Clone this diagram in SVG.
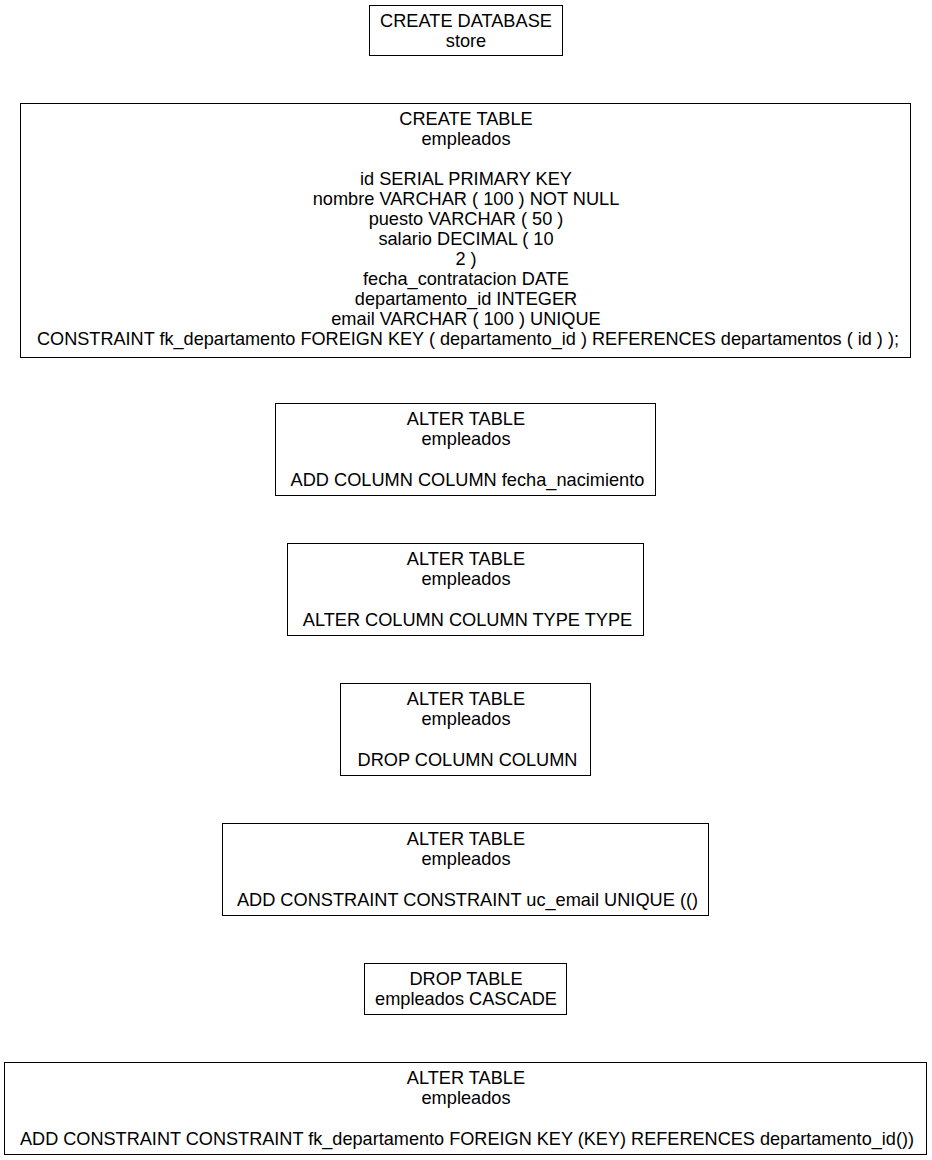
<svg xmlns="http://www.w3.org/2000/svg" width="932" height="1160" viewBox="0 0 932 1160">
<style>
rect.n { fill: #ffffff; stroke: #000000; stroke-width: 1; }
text { font-family: "Liberation Sans", Arial, sans-serif; font-size: 18.2px; fill: #000000; text-anchor: middle; }
</style>
<rect x="0" y="0" width="932" height="1160" fill="#ffffff"/>
<g id="connectors"></g>
<g id="create_db">
<rect class="n" x="369.5" y="5.5" width="193" height="50"/>
<text x="466" y="26.5">CREATE DATABASE</text>
<text x="466" y="46.5">store</text>
</g>
<g id="create_table">
<rect class="n" x="20.5" y="103.5" width="890" height="254"/>
<text x="466" y="124.5">CREATE TABLE</text>
<text x="466" y="144.5">empleados</text>
<text x="466" y="184.5">id SERIAL PRIMARY KEY</text>
<text x="466" y="204.5">nombre VARCHAR ( 100 ) NOT NULL</text>
<text x="466" y="224.5">puesto VARCHAR ( 50 )</text>
<text x="466" y="244.5">salario DECIMAL ( 10</text>
<text x="466" y="264.5">2 )</text>
<text x="466" y="284.5">fecha_contratacion DATE</text>
<text x="466" y="304.5">departamento_id INTEGER</text>
<text x="466" y="324.5">email VARCHAR ( 100 ) UNIQUE</text>
<text x="468" y="344.5" textLength="862" lengthAdjust="spacingAndGlyphs">CONSTRAINT fk_departamento FOREIGN KEY ( departamento_id ) REFERENCES departamentos ( id ) );</text>
</g>
<g id="alter_add_column">
<rect class="n" x="275.5" y="403.5" width="380" height="92"/>
<text x="466" y="424.5">ALTER TABLE</text>
<text x="466" y="444.5">empleados</text>
<text x="467.5" y="485.5">ADD COLUMN COLUMN fecha_nacimiento</text>
</g>
<g id="alter_column_type">
<rect class="n" x="287.5" y="543.5" width="356" height="92"/>
<text x="466" y="564.5">ALTER TABLE</text>
<text x="466" y="584.5">empleados</text>
<text x="467.5" y="625.5">ALTER COLUMN COLUMN TYPE TYPE</text>
</g>
<g id="alter_drop_column">
<rect class="n" x="340.5" y="683.5" width="250" height="92"/>
<text x="466" y="704.5">ALTER TABLE</text>
<text x="466" y="724.5">empleados</text>
<text x="467.5" y="765.5">DROP COLUMN COLUMN</text>
</g>
<g id="alter_add_unique">
<rect class="n" x="222.5" y="823.5" width="486" height="92"/>
<text x="466" y="844.5">ALTER TABLE</text>
<text x="466" y="864.5">empleados</text>
<text x="467.5" y="905.5">ADD CONSTRAINT CONSTRAINT uc_email UNIQUE (()</text>
</g>
<g id="drop_table">
<rect class="n" x="364.5" y="963.5" width="202" height="51"/>
<text x="466" y="984.5">DROP TABLE</text>
<text x="466" y="1004.5">empleados CASCADE</text>
</g>
<g id="alter_add_fk">
<rect class="n" x="4.5" y="1062.5" width="922" height="92"/>
<text x="466" y="1083.5">ALTER TABLE</text>
<text x="466" y="1103.5">empleados</text>
<text x="467" y="1144.5" textLength="894" lengthAdjust="spacingAndGlyphs">ADD CONSTRAINT CONSTRAINT fk_departamento FOREIGN KEY (KEY) REFERENCES departamento_id())</text>
</g>
</svg>
